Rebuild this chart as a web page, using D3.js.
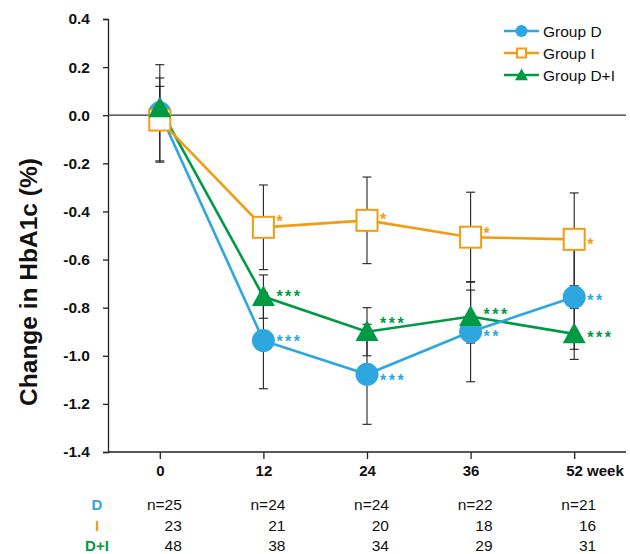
<!DOCTYPE html>
<html>
<head>
<meta charset="utf-8">
<script src="https://cdn.jsdelivr.net/npm/d3@7"></script>
<style>
  html, body { margin: 0; padding: 0; background: #fff; }
  svg { display: block; font-family: "Liberation Sans", Arial, sans-serif; }
</style>
</head>
<body>
<svg id="chart" width="630" height="554"></svg>
<script>
// ---- Data ----
const weeks = ["0", "12", "24", "36", "52"];
const xTickLabels = ["0", "12", "24", "36", "52 week"];
const yTicks = [0.4, 0.2, 0.0, -0.2, -0.4, -0.6, -0.8, -1.0, -1.2, -1.4];
const yTickLabels = ["0.4", "0.2", "0.0", "-0.2", "-0.4", "-0.6", "-0.8", "-1.0", "-1.2", "-1.4"];

const seriesNames = ["Group D", "Group I", "Group D+I"];
const groupD = [0.01, -0.937, -1.077, -0.90, -0.756];
const groupI = [-0.02, -0.466, -0.437, -0.507, -0.516];
const groupDI = [0.03, -0.754, -0.90, -0.837, -0.909];
const sdD = [0.20, 0.20, 0.208, 0.208, 0.217];
const sdI = [0.175, 0.176, 0.18, 0.187, 0.193];
const sdDI = [0.09, 0.09, 0.10, 0.11, 0.106];
const sigD = ["", "***", "***", "**", "**"];
const sigI = ["", "*", "*", "*", "*"];
const sigDI = ["", "***", "***", "***", "***"];

const tableLabels = ["D", "I", "D+I"];
const nD = ["n=25", "n=24", "n=24", "n=22", "n=21"];
const nI = ["23", "21", "20", "18", "16"];
const nDI = ["48", "38", "34", "29", "31"];

// ---- Layout / style (not data) ----
const colors = ["#2EA7E0", "#F39C12", "#009A44"];
// vertical nudge of each asterisk label relative to its marker (px)
const sigNudgeD = [0, -2.5, 3, 1.5, 0];
const sigNudgeI = [0, -9.5, -4.5, -7, 1.5];
const sigNudgeDI = [0, -3.5, -11.5, -5.5, 0];

const svg = d3.select("#chart");
const x = d3.scalePoint().domain(weeks).range([108, 626]).padding(0.5);
const y = d3.scaleLinear().domain([-1.4, 0.4]).range([452, 19]);

const series = [
  { name: seriesNames[0], vals: groupD, sd: sdD, sig: sigD, nudge: sigNudgeD, color: colors[0], shape: "circle" },
  { name: seriesNames[1], vals: groupI, sd: sdI, sig: sigI, nudge: sigNudgeI, color: colors[1], shape: "square" },
  { name: seriesNames[2], vals: groupDI, sd: sdDI, sig: sigDI, nudge: sigNudgeDI, color: colors[2], shape: "triangle" }
];

// Y axis
const yAxis = d3.axisLeft(y).tickValues(yTicks).tickSize(5).tickPadding(13)
  .tickFormat((d, i) => yTickLabels[i]);
const gy = svg.append("g").attr("transform", "translate(108,0)").call(yAxis);
gy.select(".domain").attr("stroke", "#222").attr("stroke-width", 1.3);
gy.selectAll(".tick line").attr("stroke", "#222").attr("stroke-width", 1.3);
gy.selectAll(".tick text").attr("font-size", 15.5).attr("font-weight", "bold").attr("fill", "#111")
  .attr("font-family", "Liberation Sans, Arial, sans-serif");

// X axis
const xAxis = d3.axisBottom(x).tickSize(7).tickPadding(6).tickFormat((d, i) => xTickLabels[i]);
const gx = svg.append("g").attr("transform", "translate(0,452)").call(xAxis);
gx.select(".domain").attr("stroke", "#222").attr("stroke-width", 1.3).attr("d", "M108,0H626");
gx.selectAll(".tick line").attr("stroke", "#222").attr("stroke-width", 1.3);
gx.selectAll(".tick text").attr("font-size", 15).attr("font-weight", "bold").attr("fill", "#111")
  .attr("font-family", "Liberation Sans, Arial, sans-serif")
  .each(function (d, i) {
    if (i === weeks.length - 1) d3.select(this).attr("text-anchor", "start").attr("dx", -8.5);
  });

// Zero line
svg.append("line").attr("x1", 108).attr("x2", 626).attr("y1", y(0)).attr("y2", y(0))
  .attr("stroke", "#333").attr("stroke-width", 1.2);

// Y title
svg.append("text")
  .attr("transform", "translate(37,282) rotate(-90)")
  .attr("text-anchor", "middle")
  .attr("font-size", 24.5).attr("font-weight", "bold").attr("fill", "#111")
  .text("Change in HbA1c (%)");

// Error bars
const gErr = svg.append("g");
series.forEach(s => {
  s.vals.forEach((v, i) => {
    const cx = x(weeks[i]);
    const y1 = y(v + s.sd[i]), y2 = y(v - s.sd[i]);
    gErr.append("line").attr("x1", cx).attr("x2", cx).attr("y1", y1).attr("y2", y2)
      .attr("stroke", "#222").attr("stroke-width", 1.1);
    [y1, y2].forEach(yy => gErr.append("line").attr("x1", cx - 4.5).attr("x2", cx + 4.5)
      .attr("y1", yy).attr("y2", yy).attr("stroke", "#222").attr("stroke-width", 1.1));
  });
});

// Lines (D+I, I, then D on top)
const line = d3.line().x((d, i) => x(weeks[i])).y(d => y(d));
[series[2], series[1], series[0]].forEach(s => {
  svg.append("path").datum(s.vals).attr("d", line).attr("fill", "none")
    .attr("stroke", s.color).attr("stroke-width", 2.6);
});

function drawMarker(g, shape, cx, cy, color, size) {
  if (shape === "circle") {
    g.append("circle").attr("cx", cx).attr("cy", cy).attr("r", size / 2).attr("fill", color);
  } else if (shape === "square") {
    const h = size / 2 - 1;
    g.append("rect").attr("x", cx - h).attr("y", cy - h).attr("width", 2 * h).attr("height", 2 * h)
      .attr("fill", "#fff").attr("stroke", color).attr("stroke-width", 2);
  } else {
    const w = size, hgt = size * 0.9;
    g.append("path").attr("d", `M${cx},${cy - hgt * 0.55}L${cx + w / 2},${cy + hgt * 0.45}L${cx - w / 2},${cy + hgt * 0.45}Z`)
      .attr("fill", color);
  }
}

// Markers
const gM = svg.append("g");
series.forEach(s => {
  s.vals.forEach((v, i) => drawMarker(gM, s.shape, x(weeks[i]), y(v), s.color, 23));
});

// Significance asterisks
series.forEach(s => {
  s.vals.forEach((v, i) => {
    if (!s.sig[i]) return;
    svg.append("text").attr("x", x(weeks[i]) + 13).attr("y", y(v) + s.nudge[i] + 9)
      .attr("font-size", 16).attr("font-weight", "bold").attr("letter-spacing", 2.5).attr("fill", s.color)
      .text(s.sig[i]);
  });
});

// Legend
const legY = [31, 53, 75];
series.forEach((s, i) => {
  const g = svg.append("g");
  g.append("line").attr("x1", 504).attr("x2", 539).attr("y1", legY[i]).attr("y2", legY[i])
    .attr("stroke", s.color).attr("stroke-width", 2.6);
  drawMarker(g, s.shape, 521.5, legY[i], s.color, s.shape === "circle" ? 12 : (s.shape === "square" ? 11 : 13));
  g.append("text").attr("x", 543).attr("y", legY[i] + 5.5).attr("font-size", 15.5).attr("fill", "#111")
    .text(s.name);
});

// Table of n
const rowY = [510, 531, 551];
const rows = [nD, nI, nDI];
tableLabels.forEach((lab, r) => {
  svg.append("text").attr("x", 97).attr("y", rowY[r]).attr("text-anchor", "middle")
    .attr("font-size", 15).attr("font-weight", "bold").attr("fill", colors[r]).text(lab);
  rows[r].forEach((t, i) => {
    svg.append("text").attr("x", x(weeks[i]) + 22).attr("y", rowY[r]).attr("text-anchor", "end")
      .attr("font-size", 15.5).attr("fill", "#111").text(t);
  });
});
</script>
</body>
</html>
